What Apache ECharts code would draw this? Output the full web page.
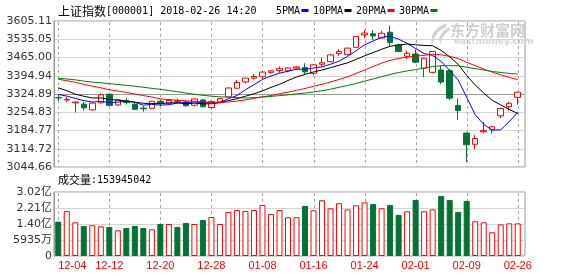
<!DOCTYPE html>
<html><head><meta charset="utf-8">
<script src="https://cdn.jsdelivr.net/npm/echarts@6/dist/echarts.min.js"></script>
<style>html,body{margin:0;padding:0;background:#fff}#c{width:578px;height:276px}</style>
</head><body><div id="c"></div>
<script>
const dates = ['12-04','12-05','12-06','12-07','12-08','12-11','12-12','12-13','12-14','12-15','12-18','12-19','12-20','12-21','12-22','12-25','12-26','12-27','12-28','12-29',
'01-02','01-03','01-04','01-05','01-08','01-09','01-10','01-11','01-12','01-15','01-16','01-17','01-18','01-19','01-22','01-23','01-24','01-25','01-26','01-29','01-30','01-31',
'02-01','02-02','02-05','02-06','02-07','02-08','02-09','02-12','02-13','02-14','02-22','02-23','02-26'];
const opens  = [3311,3302,3291,3286,3264,3291,3324,3283,3297,3285,3271,3270,3297,3289,3299,3294,3282,3302,3273,3294,3314,3347,3371,3386,3391,3408,3415,3414,3424,3426,3404,3439,3449,3480,3477,3504,3552,3556,3540,3562,3513,3470,3478,3424,3408,3417,3414,3281,3175,3132,3180,3189,3241,3276,3312];
const closes = [3310,3304,3294,3272,3290,3322,3281,3303,3292,3266,3268,3297,3288,3300,3297,3280,3306,3276,3296,3307,3348,3369,3386,3392,3409,3414,3422,3425,3429,3410,3437,3445,3475,3488,3501,3546,3559,3548,3558,3523,3488,3481,3447,3462,3488,3371,3309,3262,3130,3154,3185,3199,3269,3289,3332];
const lows   = [3299,3295,3254,3261,3261,3289,3279,3279,3285,3263,3257,3268,3279,3285,3289,3276,3278,3274,3265,3290,3314,3347,3366,3380,3384,3403,3406,3408,3418,3402,3396,3432,3447,3472,3473,3503,3539,3532,3538,3506,3485,3458,3444,3389,3405,3363,3302,3225,3064,3114,3176,3173,3232,3261,3284];
const highs  = [3321,3314,3296,3295,3292,3328,3327,3306,3308,3291,3279,3298,3304,3305,3308,3302,3307,3305,3300,3310,3349,3379,3386,3402,3412,3417,3430,3428,3432,3443,3438,3466,3477,3497,3502,3547,3570,3570,3568,3587,3518,3491,3496,3463,3490,3436,3420,3308,3178,3167,3218,3203,3271,3295,3335];
const volumes = [162e6,212e6,159e6,142e6,145e6,140e6,137e6,121e6,132e6,142e6,132e6,126e6,151e6,151e6,137e6,156e6,151e6,170e6,184e6,151e6,208e6,217e6,212e6,217e6,241e6,198e6,217e6,183e6,183e6,236e6,216e6,263e6,225e6,249e6,220e6,239e6,253e6,245e6,225e6,241e6,194e6,211e6,264e6,211e6,220e6,283e6,264e6,208e6,260e6,164e6,159e6,112e6,149e6,154e6,153945042];
const ma5  = [3323,3317,3308,3299.4,3294.0,3296.4,3291.8,3293.6,3297.6,3292.8,3282.0,3285.2,3282.2,3283.8,3290.0,3292.4,3294.2,3291.8,3291.0,3293.0,3306.6,3319.2,3341.2,3360.4,3380.8,3394.0,3404.6,3412.4,3419.8,3420.0,3424.6,3429.2,3439.2,3451.0,3469.2,3491.0,3513.8,3528.4,3542.4,3546.8,3535.2,3519.6,3499.4,3480.2,3473.2,3449.8,3415.4,3378.4,3312.0,3245.2,3208.0,3186.0,3187.4,3218.8,3254.4];
const ma10 = [3348.5,3337.8,3324.2,3316.2,3309.8,3309.8,3304.5,3301.0,3298.5,3293.4,3289.2,3288.5,3287.9,3290.7,3291.4,3287.2,3289.7,3287.0,3287.4,3291.5,3299.5,3306.7,3316.5,3325.7,3336.9,3350.3,3361.9,3376.8,3390.1,3400.4,3409.3,3416.9,3425.8,3435.4,3444.6,3457.8,3471.5,3483.8,3496.7,3508.0,3513.1,3516.7,3513.9,3511.3,3510.0,3492.5,3467.5,3438.9,3396.1,3359.2,3328.9,3300.7,3282.9,3265.6,3250.0];
const ma20 = [3381.5,3376.0,3369.9,3362.1,3355.0,3348.7,3341.3,3336.3,3330.9,3325.1,3318.8,3313.2,3306.0,3303.5,3300.6,3298.5,3297.1,3294.0,3293.0,3292.4,3294.4,3297.6,3302.2,3308.2,3314.2,3318.8,3325.8,3331.9,3338.8,3346.0,3354.4,3361.8,3371.2,3380.6,3390.8,3404.1,3416.7,3430.3,3443.4,3454.2,3461.2,3466.8,3469.9,3473.4,3477.3,3475.2,3469.5,3461.4,3446.4,3433.6,3421.0,3408.7,3398.4,3388.5,3380.0];
const ma30 = [3385.4,3382.6,3379.1,3374.6,3370.4,3368.1,3364.4,3361.3,3358.2,3354.7,3350.7,3346.8,3342.6,3338.3,3333.8,3328.2,3324.1,3319.9,3316.4,3313.9,3312.4,3311.0,3309.5,3310.9,3312.7,3315.8,3318.7,3321.6,3325.3,3328.4,3332.7,3337.4,3343.4,3350.6,3357.6,3365.1,3374.4,3382.5,3391.4,3400.0,3407.3,3413.4,3418.7,3424.1,3430.5,3433.5,3433.6,3433.2,3427.6,3422.5,3417.1,3411.4,3407.5,3404.1,3401.5];
const priceTickLabels = ['3044.66','3114.72','3184.77','3254.83','3324.89','3394.94','3465.00','3535.05','3605.11'];
const volumeTickLabels = ['0','5935万','1.40亿','2.21亿','3.02亿'];
const volumeMax = 3.02e8;
const maNames = ['5PMA','10PMA','20PMA','30PMA'];
const titleName = '上证指数';
const titleInfo = '[000001] 2018-02-26 14:20';
const volumeTitle = '成交量';

const RED = '#ff0000', GREEN = '#047235';
const maColors = ['#0000ff','#000000','#ff0000','#008000'];
const priceMin = parseFloat(priceTickLabels[0]);
const priceMax = parseFloat(priceTickLabels[priceTickLabels.length - 1]);
const last = dates.length - 1;
const gridLines = priceTickLabels.map((_, i) => i === 4 ? '#9a9a9a' : '#d6d6d6');
const mono = "'DejaVu Sans Mono', monospace";
const cjk = "'Noto Sans CJK SC'";

const L = 54, DATA_W = 468, FRAME_W = 471;
const P_TOP = 21, P_H = 146, V_TOP = 192, V_H = 64;

const chart = echarts.init(document.getElementById('c'), null, { renderer: 'canvas' });
const legendX = [276, 313, 356, 399];
const legendW = [24, 30, 30, 30];
const graphics = [];
graphics.push({ type: 'text', x: 58, y: 11, z: 10, style: {
  text: '{a|' + titleName + '}{b|' + titleInfo + '}', verticalAlign: 'middle',
  rich: { a: { fontFamily: cjk, fontSize: 12, fill: '#000' }, b: { fontFamily: mono, fontSize: 10, fill: '#000' } } } });
maNames.forEach((n, i) => {
  graphics.push({ type: 'text', x: legendX[i], y: 11, z: 10, style: { text: n, fontFamily: mono, fontSize: 10, fill: '#000', verticalAlign: 'middle' } });
  graphics.push({ type: 'rect', z: 10, shape: { x: legendX[i] + legendW[i] + 1.5, y: 9, width: 7, height: 3 }, style: { fill: maColors[i] } });
});
graphics.push({ type: 'text', x: 58, y: 180, z: 10, style: {
  text: '{a|' + volumeTitle + '}{b|:' + volumes[last] + '}', verticalAlign: 'middle',
  rich: { a: { fontFamily: cjk, fontSize: 11, fill: '#000' }, b: { fontFamily: mono, fontSize: 10, fill: '#000' } } } });
graphics.push({ type: 'polygon', z: 0, shape: { points: [[447,23],[440,26],[433,33],[431,40],[432,46],[434,39],[438,32],[446,27]] }, style: { fill: '#d2d2d2' } });
graphics.push({ type: 'polygon', z: 0, shape: { points: [[449,27],[443,31],[439,38],[440,45],[442,39],[445,34],[450,30]] }, style: { fill: '#d2d2d2' } });
graphics.push({ type: 'text', x: 450, y: 30, z: 0, style: { text: '东方财富网', fontFamily: cjk, fontWeight: 'bold', fontSize: 15, fill: '#cfcfcf', verticalAlign: 'middle' } });
graphics.push({ type: 'text', x: 454, y: 42, z: 0, style: { text: 'eastmoney.com', fontFamily: "'DejaVu Sans'", fontWeight: 'bold', fontSize: 9, fill: '#d4d4d4', verticalAlign: 'middle' } });

const option = {
  animation: false,
  backgroundColor: '#fff',
  graphic: graphics,
  grid: [
    { left: L, top: P_TOP, width: FRAME_W, height: P_H, show: true, borderColor: '#999', borderWidth: 1, backgroundColor: 'transparent' },
    { left: L, top: P_TOP, width: DATA_W, height: P_H },
    { left: L, top: V_TOP, width: FRAME_W, height: V_H, show: true, borderColor: '#999', borderWidth: 1, backgroundColor: 'transparent' },
    { left: L, top: V_TOP, width: DATA_W, height: V_H }
  ],
  xAxis: [
    { gridIndex: 0, type: 'value', min: 0, max: 1, show: false },
    { gridIndex: 1, type: 'category', data: dates, boundaryGap: true,
      axisLine: { show: false }, axisTick: { show: false }, axisLabel: { show: false }, splitLine: { show: false } },
    { gridIndex: 2, type: 'value', min: 0, max: 1, show: false },
    { gridIndex: 3, type: 'category', data: dates, boundaryGap: true,
      axisLine: { show: false }, axisTick: { show: false }, splitLine: { show: false },
      axisLabel: { interval: 5, color: RED, fontFamily: "'Liberation Sans'", fontSize: 11, margin: 4, alignMinLabel: 'left' } }
  ],
  yAxis: [
    { gridIndex: 0, type: 'value', min: 0, max: priceTickLabels.length - 1, interval: 1,
      axisLine: { show: true, lineStyle: { color: '#999' } }, axisTick: { show: false },
      axisLabel: { formatter: v => priceTickLabels[Math.round(v)], color: '#333', fontFamily: "'DejaVu Sans'", fontSize: 11, margin: 2, showMinLabel: true, showMaxLabel: true },
      splitLine: { show: true, lineStyle: { color: gridLines, width: 1 } } },
    { gridIndex: 1, type: 'value', min: priceMin, max: priceMax, show: false, splitLine: { show: false } },
    { gridIndex: 2, type: 'value', min: 0, max: volumeTickLabels.length - 1, interval: 1,
      axisLine: { show: true, lineStyle: { color: '#999' } }, axisTick: { show: false },
      axisLabel: { formatter: v => volumeTickLabels[Math.round(v)], color: '#333', fontFamily: "'DejaVu Sans', " + cjk, fontSize: 11, margin: 2, showMinLabel: true, showMaxLabel: true },
      splitLine: { show: true, lineStyle: { color: '#d6d6d6', width: 1 } } },
    { gridIndex: 3, type: 'value', min: 0, max: volumeMax, show: false, splitLine: { show: false } }
  ],
  series: [
    { type: 'candlestick', name: 'K', xAxisIndex: 1, yAxisIndex: 1, barWidth: 6,
      data: dates.map((d, i) => [opens[i], closes[i], lows[i], highs[i]]),
      itemStyle: { color: '#fff', color0: GREEN, borderColor: RED, borderColor0: GREEN, borderWidth: 1 },
      z: 3 },
    ...[ma5, ma10, ma20, ma30].map((arr, k) => ({
      type: 'line', name: maNames[k], xAxisIndex: 1, yAxisIndex: 1, data: arr,
      showSymbol: false, symbol: 'none', smooth: false, z: 5,
      lineStyle: { color: maColors[k], width: 1 }, itemStyle: { color: maColors[k] } })),
    { type: 'bar', name: 'VOL', xAxisIndex: 3, yAxisIndex: 3, barWidth: 6,
      data: volumes.map((v, i) => ({ value: v, itemStyle: closes[i] >= opens[i]
        ? { color: '#fff', borderColor: RED, borderWidth: 1 }
        : { color: GREEN, borderColor: GREEN, borderWidth: 1 } })),
      z: 3 }
  ]
};
chart.setOption(option);

// vertical dashed guide lines at every labelled date, positioned through the category axis
const guides = [];
dates.forEach((d, i) => {
  if (i % 6 !== 0) return;
  let px = chart.convertToPixel({ xAxisIndex: 1 }, i);
  if (Array.isArray(px)) px = px[0];
  if (!isFinite(px)) px = chart.convertToPixel({ gridIndex: 1 }, [i, priceMin])[0];
  const x = Math.round(px) + 0.5;
  [[P_TOP + 1, P_TOP + P_H], [V_TOP + 1, V_TOP + V_H]].forEach(([y1, y2]) => {
    guides.push({ type: 'line', z: 1, silent: true, shape: { x1: x, y1: y1, x2: x, y2: y2 },
      style: { stroke: '#aaaaaa', fill: null, lineWidth: 1, lineDash: [3, 3] } });
  });
});
chart.setOption({ graphic: { elements: graphics.concat(guides) } });
</script>
</body></html>
